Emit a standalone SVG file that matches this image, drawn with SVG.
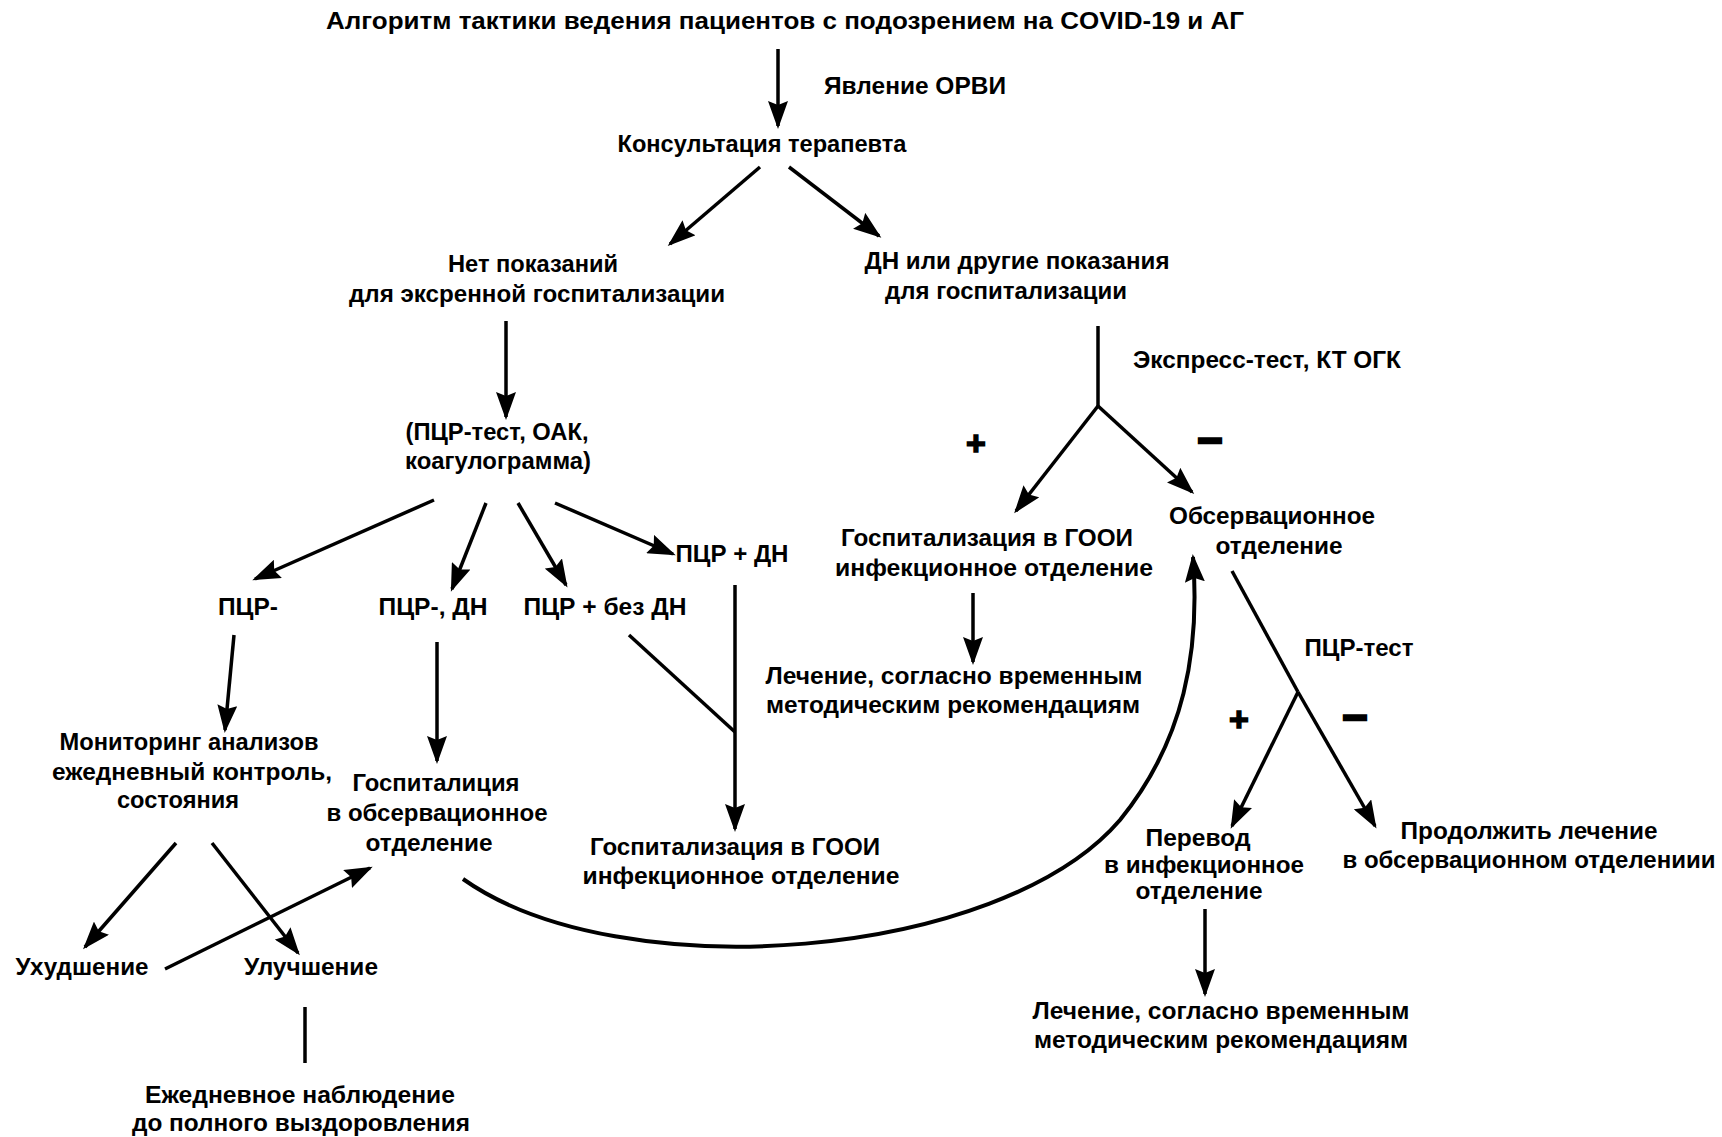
<svg xmlns="http://www.w3.org/2000/svg" width="1722" height="1137" viewBox="0 0 1722 1137">
  <style>
    text { font-family: "Liberation Sans", Arial, sans-serif; font-weight: bold; font-size: 23px; fill: #000; text-anchor: middle; }
    .sign { font-size: 34px; stroke: #000; stroke-width: 1.5; }
    .minus { font-size: 44px; stroke: #000; stroke-width: 2.6; }
    .edge { fill: none; stroke: #000; stroke-width: 3.5; }
    .curve { stroke-width: 4; }
    .arrow { marker-end: url(#head); }
  </style>
  <defs>
    <marker id="head" markerUnits="userSpaceOnUse" markerWidth="28" markerHeight="20" refX="25" refY="10" orient="auto">
      <path d="M0,0 L28,10 L0,20 L4,10 Z" fill="#000"/>
    </marker>
  </defs>
  <rect width="1722" height="1137" fill="#fff"/>

  <!-- connectors -->
  <g id="connectors">
    <path class="edge arrow" d="M778,49 V126"/>
    <path class="edge arrow" d="M760,167 L670,244"/>
    <path class="edge arrow" d="M789,167 L879,236"/>
    <path class="edge arrow" d="M506,321 V417"/>
    <path class="edge" d="M1098,326 V406"/>
    <path class="edge arrow" d="M1098,406 L1016,511"/>
    <path class="edge arrow" d="M1098,406 L1192,492"/>
    <path class="edge arrow" d="M973,593 V662"/>
    <path class="edge arrow" d="M434,500 L255,579"/>
    <path class="edge arrow" d="M486,503 L452,589"/>
    <path class="edge arrow" d="M518,503 L566,585"/>
    <path class="edge arrow" d="M555,503 L673,554"/>
    <path class="edge arrow" d="M234,635 L225,730"/>
    <path class="edge arrow" d="M437,642 V761"/>
    <path class="edge arrow" d="M735,585 V829"/>
    <path class="edge" d="M629,635 L735,732"/>
    <path class="edge arrow" d="M176,843 L85,947"/>
    <path class="edge arrow" d="M212,843 L298,953"/>
    <path class="edge arrow" d="M165,969 L370,868"/>
    <path class="edge" d="M305,1007 V1063"/>
    <path class="edge curve arrow" d="M463,879 C620,990 1000,960 1120,820 C1185,740 1200,650 1193,557"/>
    <path class="edge" d="M1232,571 L1298,692"/>
    <path class="edge arrow" d="M1298,692 L1375,826"/>
    <path class="edge arrow" d="M1298,692 L1232,826"/>
    <path class="edge arrow" d="M1205,909 V994"/>
  </g>

  <!-- edge labels and signs -->
  <g id="labels">
    <text x="915" y="94" textLength="182" lengthAdjust="spacingAndGlyphs">Явление ОРВИ</text>
    <text x="1267" y="368" textLength="268" lengthAdjust="spacingAndGlyphs">Экспресс-тест, КТ ОГК</text>
    <text class="sign" x="976" y="455">+</text>
    <text class="minus" x="1210" y="453">–</text>
    <text x="1359" y="656" textLength="109" lengthAdjust="spacingAndGlyphs">ПЦР-тест</text>
    <text class="sign" x="1239" y="731">+</text>
    <text class="minus" x="1355" y="730">–</text>
  </g>

  <g id="title">
    <text x="785" y="29" textLength="918" lengthAdjust="spacingAndGlyphs">Алгоритм тактики ведения пациентов с подозрением на COVID-19 и АГ</text>
  </g>
  <g id="consult">
    <text x="762" y="152" textLength="289" lengthAdjust="spacingAndGlyphs">Консультация терапевта</text>
  </g>
  <g id="no-indications">
    <text x="533" y="272" textLength="170" lengthAdjust="spacingAndGlyphs">Нет показаний</text>
    <text x="537" y="302" textLength="376" lengthAdjust="spacingAndGlyphs">для эксренной госпитализации</text>
  </g>
  <g id="dn-indications">
    <text x="1017" y="269" textLength="305" lengthAdjust="spacingAndGlyphs">ДН или другие показания</text>
    <text x="1006" y="299" textLength="242" lengthAdjust="spacingAndGlyphs">для госпитализации</text>
  </g>
  <g id="tests">
    <text x="497" y="440" textLength="183" lengthAdjust="spacingAndGlyphs">(ПЦР-тест, ОАК,</text>
    <text x="498" y="469" textLength="186" lengthAdjust="spacingAndGlyphs">коагулограмма)</text>
  </g>
  <g id="gooi-right">
    <text x="987" y="546" textLength="292" lengthAdjust="spacingAndGlyphs">Госпитализация в ГООИ</text>
    <text x="994" y="576" textLength="318" lengthAdjust="spacingAndGlyphs">инфекционное отделение</text>
  </g>
  <g id="observation">
    <text x="1272" y="524" textLength="206" lengthAdjust="spacingAndGlyphs">Обсервационное</text>
    <text x="1279" y="554" textLength="127" lengthAdjust="spacingAndGlyphs">отделение</text>
  </g>
  <g id="treatment-1">
    <text x="954" y="684" textLength="377" lengthAdjust="spacingAndGlyphs">Лечение, согласно временным</text>
    <text x="953" y="713" textLength="374" lengthAdjust="spacingAndGlyphs">методическим рекомендациям</text>
  </g>
  <g id="pcr-neg">
    <text x="248" y="615" textLength="60" lengthAdjust="spacingAndGlyphs">ПЦР-</text>
  </g>
  <g id="pcr-neg-dn">
    <text x="433" y="615" textLength="109" lengthAdjust="spacingAndGlyphs">ПЦР-, ДН</text>
  </g>
  <g id="pcr-pos-no-dn">
    <text x="605" y="615" textLength="163" lengthAdjust="spacingAndGlyphs">ПЦР + без ДН</text>
  </g>
  <g id="pcr-pos-dn">
    <text x="732" y="562" textLength="113" lengthAdjust="spacingAndGlyphs">ПЦР + ДН</text>
  </g>
  <g id="monitoring">
    <text x="189" y="750" textLength="259" lengthAdjust="spacingAndGlyphs">Мониторинг анализов</text>
    <text x="192" y="780" textLength="280" lengthAdjust="spacingAndGlyphs">ежедневный контроль,</text>
    <text x="178" y="808" textLength="122" lengthAdjust="spacingAndGlyphs">состояния</text>
  </g>
  <g id="hosp-observation">
    <text x="436" y="791" textLength="167" lengthAdjust="spacingAndGlyphs">Госпиталиция</text>
    <text x="437" y="821" textLength="221" lengthAdjust="spacingAndGlyphs">в обсервационное</text>
    <text x="429" y="851" textLength="127" lengthAdjust="spacingAndGlyphs">отделение</text>
  </g>
  <g id="gooi-mid">
    <text x="735" y="855" textLength="290" lengthAdjust="spacingAndGlyphs">Госпитализация в ГООИ</text>
    <text x="741" y="884" textLength="317" lengthAdjust="spacingAndGlyphs">инфекционное отделение</text>
  </g>
  <g id="worse">
    <text x="82" y="975" textLength="133" lengthAdjust="spacingAndGlyphs">Ухудшение</text>
  </g>
  <g id="better">
    <text x="311" y="975" textLength="134" lengthAdjust="spacingAndGlyphs">Улучшение</text>
  </g>
  <g id="daily-watch">
    <text x="300" y="1103" textLength="310" lengthAdjust="spacingAndGlyphs">Ежедневное наблюдение</text>
    <text x="301" y="1131" textLength="338" lengthAdjust="spacingAndGlyphs">до полного выздоровления</text>
  </g>
  <g id="transfer">
    <text x="1198" y="846" textLength="105" lengthAdjust="spacingAndGlyphs">Перевод</text>
    <text x="1204" y="873" textLength="200" lengthAdjust="spacingAndGlyphs">в инфекционное</text>
    <text x="1199" y="899" textLength="127" lengthAdjust="spacingAndGlyphs">отделение</text>
  </g>
  <g id="continue">
    <text x="1529" y="839" textLength="257" lengthAdjust="spacingAndGlyphs">Продолжить лечение</text>
    <text x="1529" y="868" textLength="373" lengthAdjust="spacingAndGlyphs">в обсервационном отделениии</text>
  </g>
  <g id="treatment-2">
    <text x="1221" y="1019" textLength="377" lengthAdjust="spacingAndGlyphs">Лечение, согласно временным</text>
    <text x="1221" y="1048" textLength="374" lengthAdjust="spacingAndGlyphs">методическим рекомендациям</text>
  </g>
</svg>
